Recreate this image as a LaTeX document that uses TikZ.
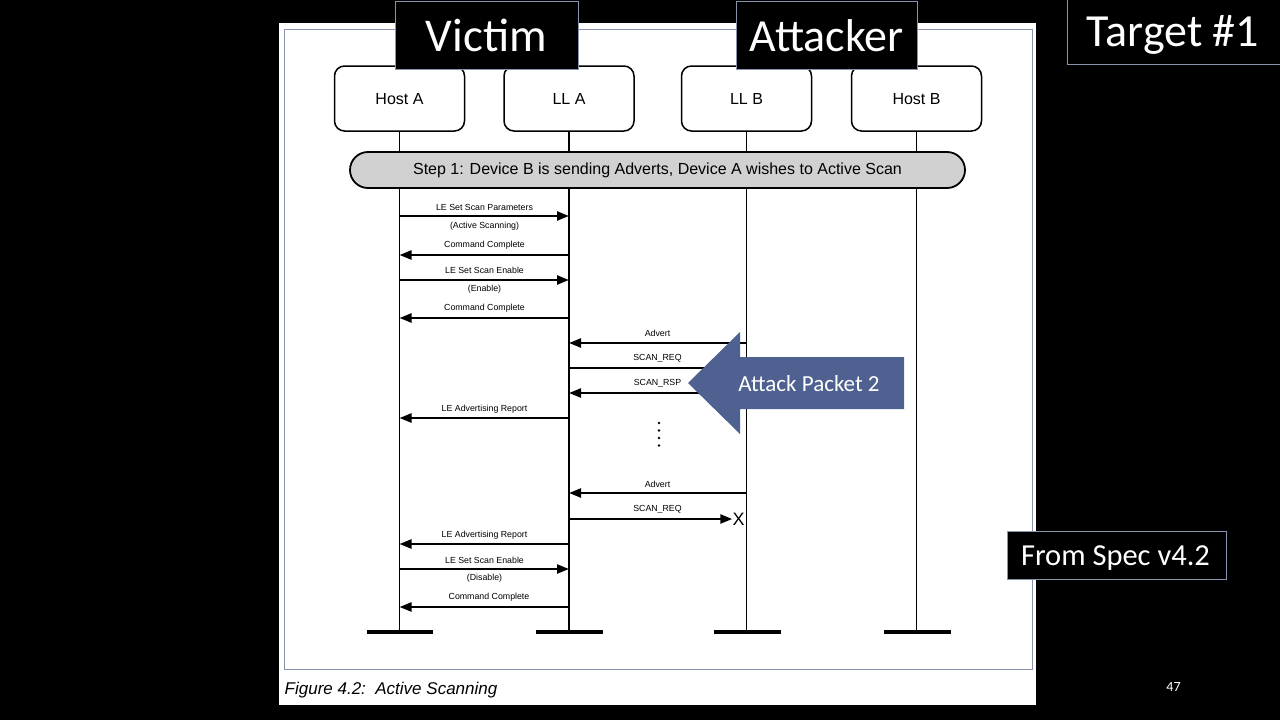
\documentclass[tikz,border=0pt]{standalone}
\usepackage{fontspec}
\setmainfont{Liberation Sans}
\newfontfamily\calib{Carlito}
\usetikzlibrary{arrows.meta}
\definecolor{atkblue}{HTML}{4F6190}
\definecolor{framegray}{HTML}{8A93AE}
\tikzset{
  lifebox/.style={draw=black, line width=1.5pt, rounded corners=10pt, fill=white,
    minimum width=130pt, minimum height=65pt, inner sep=0pt, text height=11.5pt, text depth=0pt,
    font=\fontsize{16}{18}\selectfont},
  life/.style={line width=1.8pt},
  endbar/.style={line width=4pt},
  msg/.style={line width=2.3pt, -{Triangle[length=12pt,width=9pt]}},
  lbl/.style={inner sep=0pt, font=\fontsize{8.8}{10}\selectfont},
  tag/.style={fill=black, draw=framegray, line width=0.8pt, text=white, inner sep=0pt},
}
\begin{document}
\begin{tikzpicture}[x=1pt,y=-1pt]
\useasboundingbox (0,0) rectangle (1280,720);
\fill[black] (0,0) rectangle (1280,720);
% white page
\fill[white] (279,23) rectangle (1036,705);
\draw[framegray, line width=1pt] (284,29) rectangle (1032,669);
% lifeline boxes
\node[lifebox] (hA) at (399.5,98.5) {Host A};
\node[lifebox] (lA) at (569,98.5) {LL A};
\node[lifebox] (lB) at (746.5,98.5) {LL B};
\node[lifebox] (hB) at (916.5,98.5) {Host B};
\coordinate (hAe) at (399.5,632);
\coordinate (lAe) at (569,632);
\coordinate (lBe) at (746.5,632);
\coordinate (hBe) at (916.5,632);
\draw[life] (hA.south) -- (hAe);
\draw[life] (lA.south) -- (lAe);
\draw[life] (lB.south) -- (lBe);
\draw[life] (hB.south) -- (hBe);
\draw[endbar] ([xshift=-33pt]hAe) -- ([xshift=33pt]hAe);
\draw[endbar] ([xshift=-33pt]lAe) -- ([xshift=34pt]lAe);
\draw[endbar] ([xshift=-33pt]lBe) -- ([xshift=34pt]lBe);
\draw[endbar] ([xshift=-33pt]hBe) -- ([xshift=34pt]hBe);
% step banner
\node[draw=black, line width=1.8pt, fill=black!18, rounded corners=18pt,
  minimum width=615pt, minimum height=36pt, inner sep=0pt,
  font=\fontsize{16}{18}\selectfont] (step) at (657.5,170)
  {Step 1: Device B is sending Adverts, Device A wishes to Active Scan};
% messages
\draw[msg] (hA.south |- 0,216) -- (lA.south |- 0,216);
\node[lbl] (m1) at (484.5,207.5) {LE Set Scan Parameters};
\node[lbl] (m1b) at (484.5,226.5) {(Active Scanning)};
\draw[msg] (lA.south |- 0,255) -- (hA.south |- 0,255);
\node[lbl] (m2) at (484.5,245.5) {Command Complete};
\draw[msg] (hA.south |- 0,280) -- (lA.south |- 0,280);
\node[lbl] (m3) at (484.5,270.5) {LE Set Scan Enable};
\node[lbl] (m3b) at (484.5,289) {(Enable)};
\draw[msg] (lA.south |- 0,318) -- (hA.south |- 0,318);
\node[lbl] (m4) at (484.5,308.5) {Command Complete};
\draw[msg] (lB.south |- 0,343) -- (lA.south |- 0,343);
\node[lbl] (m5) at (657.5,333.5) {Advert};
\draw[msg] (lA.south |- 0,368) -- (lB.south |- 0,368);
\node[lbl] (m6) at (657.5,358.5) {SCAN\_REQ};
\draw[msg] (lB.south |- 0,393) -- (lA.south |- 0,393);
\node[lbl] (m7) at (657.5,383.5) {SCAN\_RSP};
\draw[msg] (lA.south |- 0,418) -- (hA.south |- 0,418);
\node[lbl] (m8) at (484.5,409.5) {LE Advertising Report};
% ellipsis dots
\foreach \yy in {423,430.5,438,445.5} \fill (659,\yy) circle (1.3pt);
\draw[msg] (lB.south |- 0,493) -- (lA.south |- 0,493);
\node[lbl] (m9) at (657.5,484.5) {Advert};
\node[inner sep=0pt, font=\fontsize{18}{18}\selectfont] (xx) at (738.5,519) {X};
\draw[msg] (lA.south |- 0,519) -- (lA.south |- 0,519 -| xx.west);
\node[lbl] (m10) at (657.5,509.5) {SCAN\_REQ};
\draw[msg] (lA.south |- 0,544) -- (hA.south |- 0,544);
\node[lbl] (m11) at (484.5,535) {LE Advertising Report};
\draw[msg] (hA.south |- 0,569) -- (lA.south |- 0,569);
\node[lbl] (m12) at (484.5,560) {LE Set Scan Enable};
\node[lbl] (m12b) at (484.5,578.5) {(Disable)};
\draw[msg] (lA.south |- 0,607) -- (hA.south |- 0,607);
\node[lbl] (m13) at (489,597.5) {Command Complete};
% attack arrow
\fill[atkblue] (688,383) -- (740,332) -- (740,357) -- (904,357) -- (904,409) -- (740,409) -- (740,434) -- cycle;
\node[text=white, inner sep=0pt, font=\calib\fontsize{23}{24}\selectfont] (atk) at (809,384) {Attack Packet 2};
% caption
\node[anchor=west, inner sep=0pt, font=\itshape\fontsize{17}{18}\selectfont] (cap) at (284.5,690) {Figure 4.2:\ \ Active Scanning};
% overlay tags
\node[tag, minimum width=183pt, minimum height=68pt, font=\calib\fontsize{47}{48}\selectfont] (victim) at (486.5,35.5) {Victim};
\node[tag, minimum width=181pt, minimum height=68pt, font=\calib\fontsize{46}{48}\selectfont] (attacker) at (826.5,35.5) {Attacker};
\node[tag, minimum width=214pt, minimum height=66pt] (target) at (1174,31) {};
\node[text=white, inner sep=0pt, font=\calib\fontsize{46}{48}\selectfont] (targett) at (1173,35) {Target \#1};
\node[tag, minimum width=219pt, minimum height=48pt] (spec) at (1116.5,555) {};
\node[text=white, inner sep=0pt, font=\calib\fontsize{30.5}{32}\selectfont] (spect) at (1115.5,558.5) {From Spec v4.2};
\node[text=white, inner sep=0pt, font=\calib\fontsize{14}{16}\selectfont] (pg) at (1173.5,687) {47};
\end{tikzpicture}
\end{document}
